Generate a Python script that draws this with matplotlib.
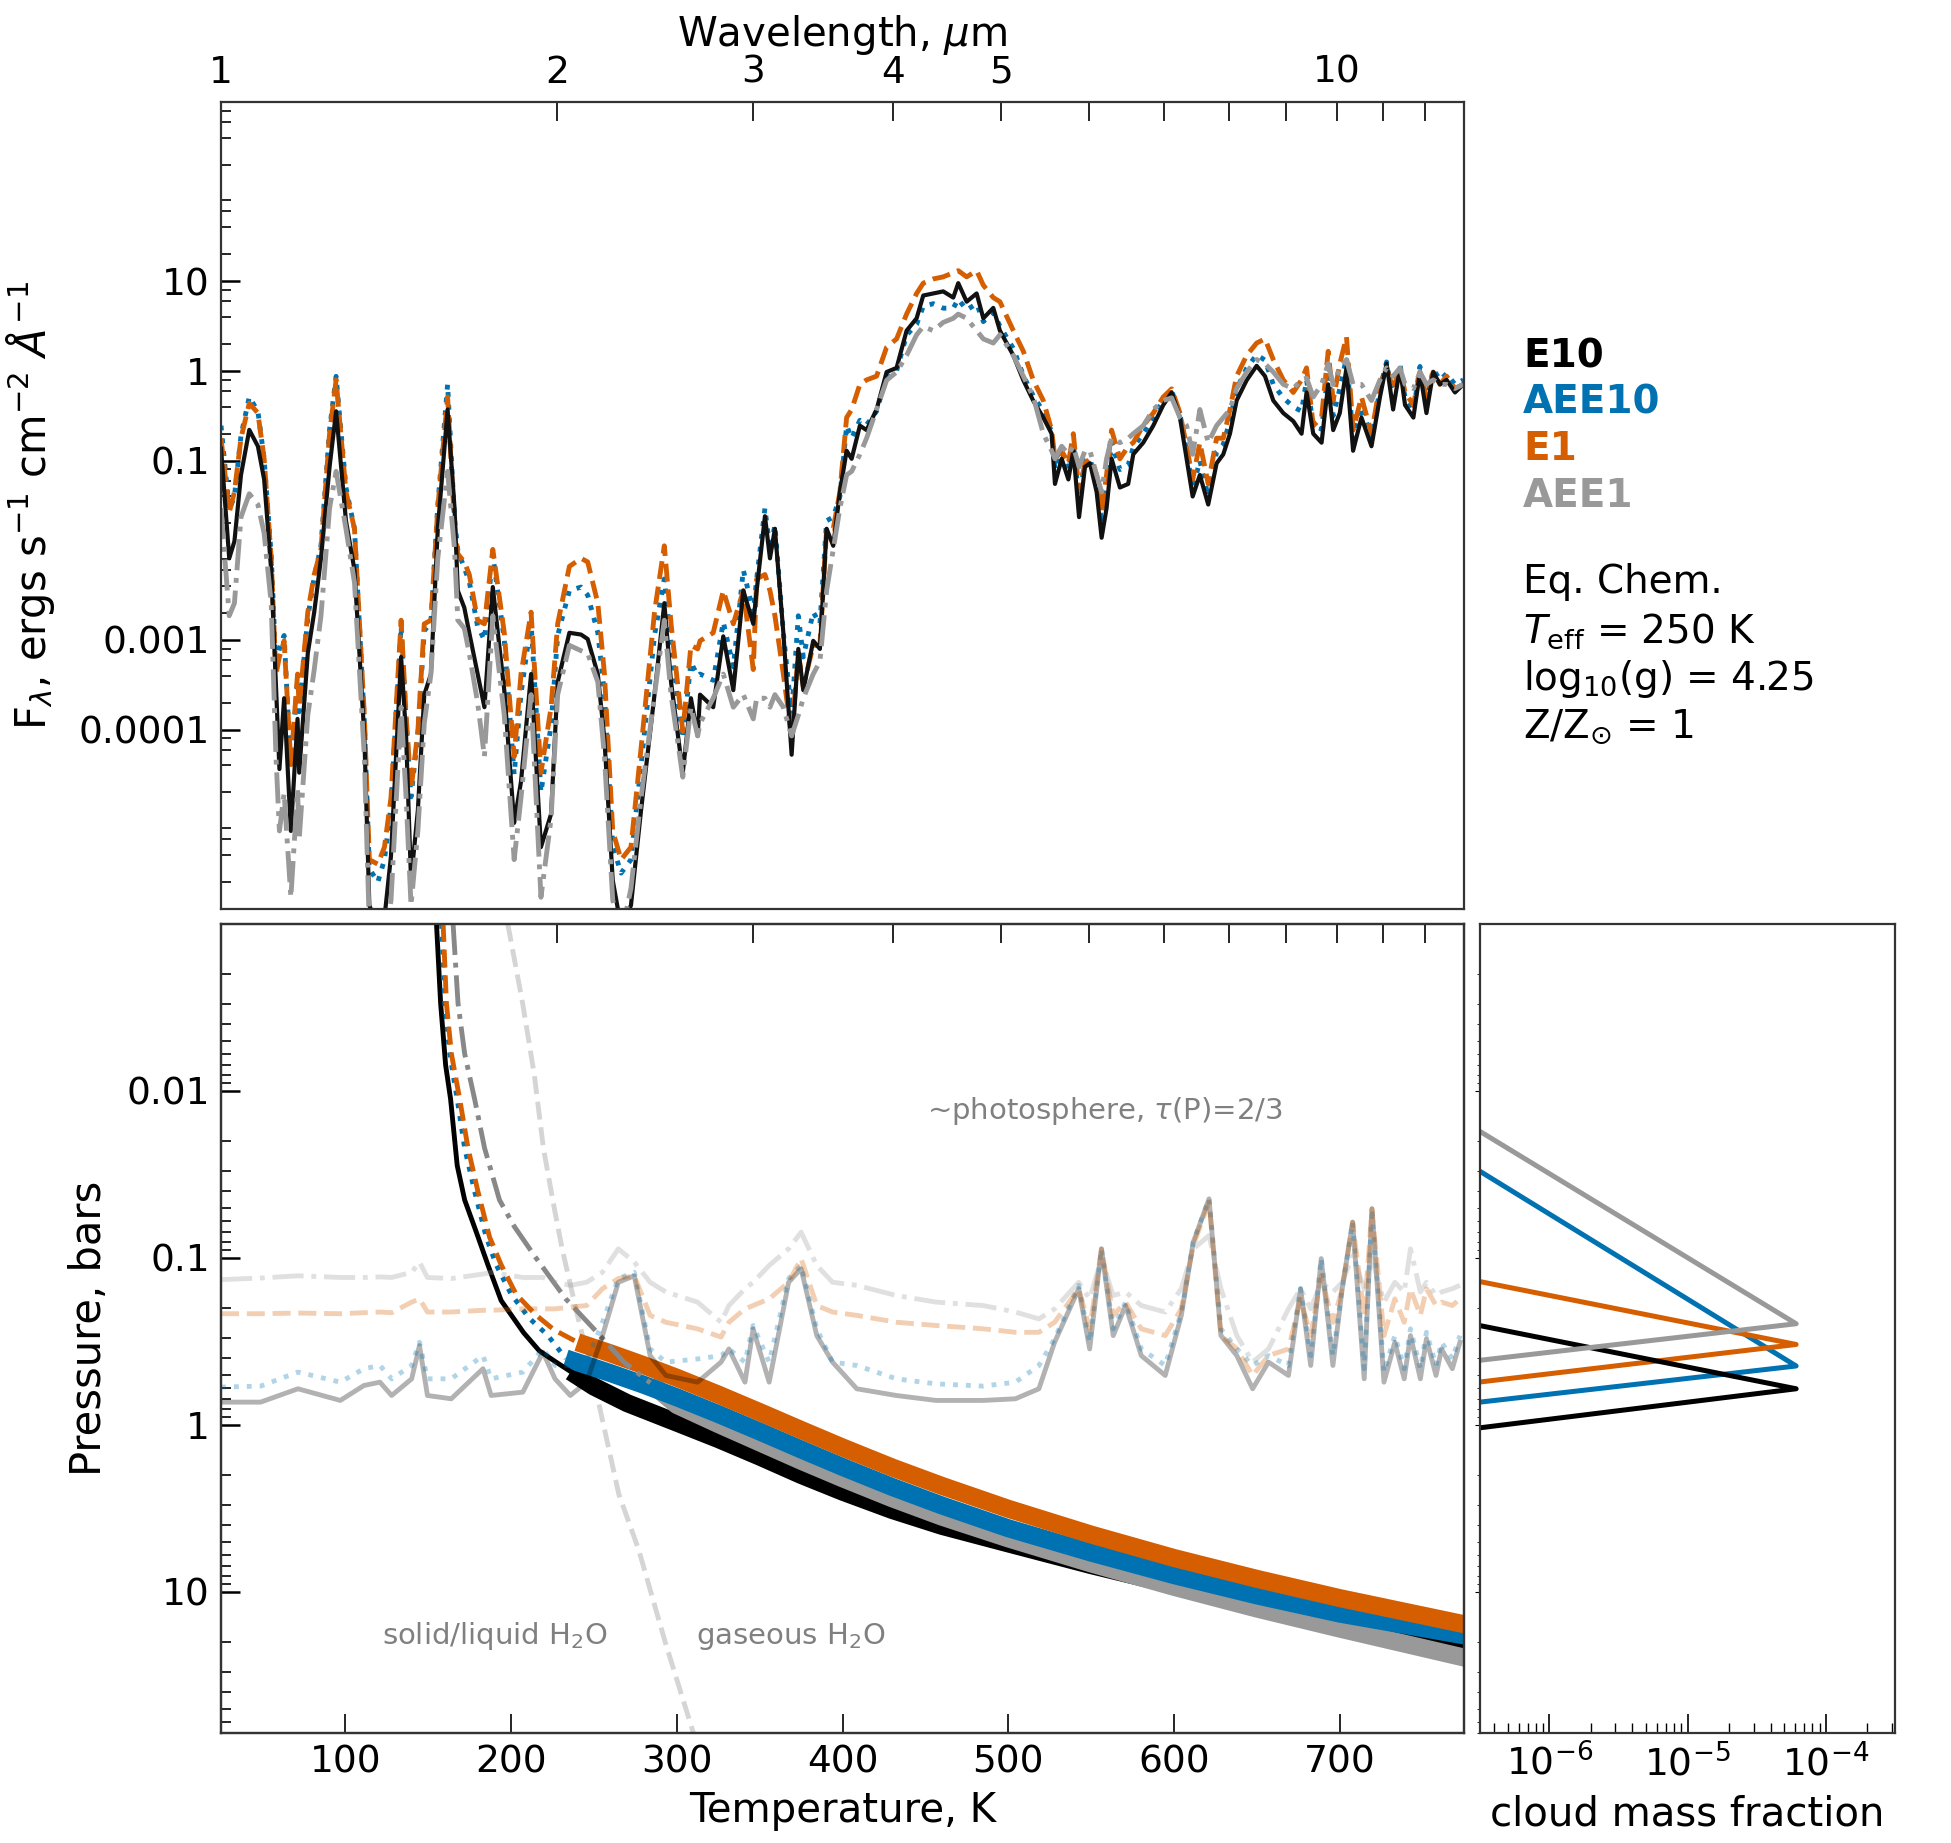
import numpy as np
import matplotlib
matplotlib.use("Agg")
import matplotlib.pyplot as plt
from matplotlib.ticker import FixedLocator, FixedFormatter, NullLocator, NullFormatter, LogLocator

c_E10 = "black"
c_AEE10 = "#0072B2"
c_E1 = "#D55E00"
c_AEE1 = "#999999"

# spectrum, wavelength in micron, log10 flux
wl = [1.000, 1.017, 1.028, 1.042, 1.060, 1.079, 1.093, 1.109, 1.120, 1.128, 1.139, 1.155, 1.171, 1.175, 1.196, 1.212,
      1.229, 1.251, 1.268, 1.294, 1.317, 1.344, 1.358, 1.382, 1.401, 1.420, 1.450, 1.465, 1.480, 1.501, 1.521, 1.542,
      1.564, 1.596, 1.619, 1.630, 1.652, 1.669, 1.698, 1.722, 1.752, 1.794, 1.831, 1.857, 1.896, 1.935, 1.976, 2.003,
      2.052, 2.102, 2.131, 2.176, 2.206, 2.244, 2.283, 2.330, 2.379, 2.446, 2.496, 2.531, 2.593, 2.637, 2.674,
      2.687, 2.761, 2.819, 2.878, 2.938, 2.999, 3.020, 3.072, 3.104, 3.136, 3.191, 3.246, 3.291, 3.325, 3.394, 3.441,
      3.489, 3.537, 3.586, 3.636, 3.674, 3.737, 3.789, 3.868, 3.949, 4.031, 4.115, 4.201, 4.259, 4.348, 4.438, 4.531,
      4.578, 4.658, 4.755, 4.821, 4.921,
      4.989, 5.129, 5.236, 5.345, 5.456, 5.551, 5.589, 5.667, 5.746, 5.805, 5.874, 5.946, 6.008, 6.091, 6.154, 6.217,
      6.282, 6.391, 6.501, 6.569, 6.706, 6.846, 6.989, 7.111, 7.234, 7.334, 7.426, 7.537, 7.668, 7.802, 7.910, 8.020,
      8.131, 8.301, 8.474, 8.621, 8.770, 8.953, 9.139, 9.297, 9.393, 9.524, 9.689, 9.822, 9.924, 10.06, 10.20, 10.34,
      10.52, 10.74, 10.93, 11.08, 11.23, 11.39, 11.51, 11.71, 11.87, 12.03, 12.20, 12.37, 12.54, 12.76, 12.98]

logF_E10 = [-0.865, -2.09, -1.90, -1.16, -0.657, -0.84, -1.21, -2.22, -3.52, -4.44, -3.65, -5.13, -3.88, -4.48, -3.15, -2.69,
            -2.09, -1.07, -0.45, -1.67, -2.22, -4.07, -5.96, -6.2, -6.1, -5.41, -3.19, -4.07, -5.68, -4.90, -3.61, -3.38,
            -1.76, -0.43, -1.53, -2.45, -2.64, -2.92, -3.38, -3.75, -2.41, -3.56, -5.04, -4.58, -3.38, -5.31, -4.94, -3.47,
            -2.92, -2.94, -2.99, -3.38, -4.11, -5.68, -6.2, -5.96, -4.90, -3.61, -2.59, -3.47, -4.48, -3.65, -4.07,
            -3.61, -3.75, -2.96, -3.56, -2.45, -2.82, -2.45, -1.62, -2.09, -1.76, -2.92, -4.28, -3.10, -3.56, -3.01, -3.10,
            -1.76, -1.95, -1.35, -0.89, -0.98, -0.61, -0.66, -0.43, -0.012, 0.034, 0.449, 0.587, 0.841, 0.864, 0.887, 0.818,
            0.979, 0.772, 0.864, 0.587, 0.703,
            0.449, 0.173, -0.104, -0.334, -0.52, -0.70, -1.26, -0.98, -1.21, -0.89, -1.63, -1.07, -1.03, -1.35, -1.86, -1.53,
            -0.98, -1.30, -1.26, -0.93, -0.80, -0.61, -0.38, -0.24, -0.52, -0.98, -1.40, -1.16, -1.49, -1.03, -0.93, -0.70,
            -0.33, -0.104, 0.057, -0.058, -0.33, -0.47, -0.56, -0.70, -0.24, -0.70, -0.80, -0.15, -0.66, -0.47, 0.034, -0.89,
            -0.52, -0.84, -0.29, 0.08, -0.43, 0.034, -0.38, -0.52, -0.012, -0.47, -0.012, -0.15, -0.10, -0.24, -0.15]

logF_AEE10 = [-0.61, -1.55, -1.40, -0.72, -0.29, -0.45, -0.98, -2.05, -3.30, -3.10, -2.95, -4.45, -3.45, -3.80, -2.75, -2.30,
              -1.95, -0.65, -0.06, -1.30, -1.76, -3.90, -5.55, -5.70, -5.45, -4.85, -2.85, -3.90, -4.75, -4.05, -2.90, -2.80,
              -1.50, -0.15, -1.65, -2.00, -2.20, -2.35, -2.85, -3.00, -2.05, -3.00, -4.50, -3.60, -2.80, -4.70, -3.95, -2.95,
              -2.45, -2.41, -2.50, -2.92, -3.60, -5.30, -5.60, -5.45, -4.40, -2.95, -2.32, -3.05, -4.10, -3.25, -3.40,
              -3.38, -3.45, -2.80, -3.30, -2.22, -2.69, -2.32, -1.53, -1.99, -1.72, -2.92, -3.84, -2.73, -3.19, -2.69, -2.82,
              -1.67, -1.63, -1.40, -0.61, -0.75, -0.55, -0.60, -0.45, -0.06, 0.0, 0.40, 0.52, 0.72, 0.75, 0.70, 0.70,
              0.80, 0.68, 0.75, 0.55, 0.65,
              0.50, 0.25, -0.05, -0.28, -0.45, -0.68, -1.10, -0.90, -1.10, -0.80, -1.45, -1.00, -0.98, -1.25, -1.70, -1.30,
              -0.80, -1.10, -1.05, -0.85, -0.70, -0.52, -0.32, -0.22, -0.48, -0.90, -1.32, -1.00, -1.40, -0.90, -0.82, -0.55,
              -0.20, 0.03, 0.18, 0.12, -0.15, -0.30, -0.40, -0.45, -0.10, -0.60, -0.65, 0.0, -0.50, -0.20, 0.15, -0.75,
              -0.40, -0.75, -0.20, 0.10, -0.30, 0.08, -0.30, -0.45, 0.05, -0.35, 0.02, -0.10, -0.03, -0.15, -0.10]

logF_E1 = [-0.75, -1.58, -1.35, -0.75, -0.36, -0.47, -0.98, -2.09, -3.38, -3.19, -3.01, -4.39, -3.38, -3.75, -2.69, -2.27,
           -1.99, -0.70, -0.10, -1.35, -1.76, -3.84, -5.45, -5.50, -5.31, -4.76, -2.78, -3.84, -4.67, -4.02, -2.82, -2.78,
           -1.53, -0.29, -1.72, -2.04, -2.13, -2.27, -2.78, -2.82, -1.99, -2.92, -4.30, -3.38, -2.69, -4.48, -3.75, -2.82,
           -2.18, -2.09, -2.13, -2.59, -3.38, -5.13, -5.45, -5.31, -4.21, -2.69, -1.95, -2.82, -4.02, -3.06, -3.10,
           -3.01, -2.92, -2.45, -2.82, -2.45, -3.33, -2.32, -2.27, -2.45, -2.73, -3.38, -4.07, -3.15, -3.52, -3.06, -3.06,
           -1.76, -1.76, -1.35, -0.52, -0.43, -0.15, -0.10, -0.058, 0.265, 0.357, 0.634, 0.864, 0.979, 1.026, 1.049, 1.095,
           1.118, 1.049, 1.118, 0.956, 0.818,
           0.772, 0.449, 0.219, -0.104, -0.33, -0.66, -0.98, -0.89, -1.03, -0.70, -1.35, -1.03, -0.98, -1.16, -1.58, -1.16,
           -0.66, -0.98, -0.84, -0.80, -0.61, -0.47, -0.29, -0.20, -0.47, -0.84, -1.21, -0.80, -1.26, -0.75, -0.75, -0.43,
           -0.058, 0.173, 0.311, 0.357, 0.127, -0.10, -0.24, -0.10, 0.034, -0.61, -0.52, 0.219, -0.33, 0.08, 0.38, -0.66,
           -0.29, -0.70, -0.15, 0.034, -0.20, 0.034, -0.24, -0.38, -0.012, -0.29, -0.012, -0.15, -0.058, -0.196, -0.15]

logF_AEE1 = [-1.53, -2.73, -2.59, -1.63, -1.37, -1.49, -1.81, -2.59, -4.30, -5.13, -4.71, -5.87, -4.67, -5.22, -3.84, -3.33,
             -2.73, -1.53, -1.12, -1.76, -2.36, -4.30, -6.2, -6.3, -6.3, -5.91, -3.75, -4.76, -5.96, -5.13, -3.93, -3.38,
             -2.09, -1.12, -1.99, -2.78, -2.87, -3.15, -3.70, -4.30, -2.73, -3.84, -5.45, -4.76, -3.61, -5.87, -4.99, -3.61,
             -3.06, -3.12, -3.15, -3.47, -4.30, -5.9, -6.3, -5.77, -4.76, -3.61, -2.78, -3.61, -4.53, -3.75, -4.07,
             -3.93, -3.65, -3.38, -3.75, -3.61, -3.88, -3.65, -3.65, -3.75, -3.61, -3.75, -4.07, -3.84, -3.65, -3.38, -3.24,
             -2.45, -1.99, -1.53, -1.16, -1.12, -0.93, -0.75, -0.43, -0.104, -0.012, 0.173, 0.403, 0.495, 0.449, 0.541, 0.587,
             0.634, 0.587, 0.449, 0.357, 0.311,
             0.403, 0.173, -0.058, -0.29, -0.70, -0.89, -0.98, -0.84, -0.93, -0.84, -1.07, -0.89, -0.89, -1.16, -1.35, -0.98,
             -0.75, -0.80, -0.75, -0.70, -0.61, -0.43, -0.33, -0.30, -0.52, -0.61, -0.93, -0.43, -0.80, -0.61, -0.52, -0.43,
             -0.196, -0.012, 0.127, 0.08, -0.012, -0.15, -0.196, -0.10, -0.08, -0.29, -0.15, 0.08, -0.15, 0.034, 0.127, -0.15,
             -0.15, -0.33, -0.10, 0.034, -0.06, 0.034, -0.15, -0.196, -0.012, -0.15, -0.10, -0.15, -0.15, -0.196, -0.15]

# photosphere pressure (bar) at tau=2/3 vs wavelength
wl_ph = [1.000, 1.085, 1.172, 1.279, 1.343, 1.388, 1.422, 1.482, 1.506, 1.531,
         1.608, 1.717, 1.746, 1.864, 1.943, 1.992, 2.056, 2.126, 2.197, 2.270,
         2.346, 2.424, 2.504, 2.673, 2.806, 2.852, 2.948, 2.998, 3.099, 3.226,
         3.310, 3.419, 3.532, 3.713, 4.029, 4.372, 4.820, 5.151, 5.407, 5.585,
         5.870, 6.004, 6.152, 6.303, 6.466, 6.679, 7.017, 7.254, 7.435, 7.681,
         7.872, 8.134, 8.404, 8.684, 9.049, 9.278, 9.474, 9.682, 9.918, 10.11,
         10.33, 10.58, 10.75, 11.02, 11.27, 11.49, 11.64, 11.88, 12.03, 12.27,
         12.41, 12.69, 12.89]
P_ph_E10 = [0.731, 0.731, 0.608, 0.714, 0.581, 0.555, 0.667, 0.530, 0.335, 0.667,
            0.698, 0.461, 0.667, 0.637, 0.367, 0.530, 0.667, 0.555, 0.292, 0.140,
            0.128, 0.385, 0.506, 0.555, 0.421, 0.351, 0.555, 0.266, 0.555, 0.140,
            0.116, 0.292, 0.421, 0.608, 0.667, 0.714, 0.714, 0.698, 0.608, 0.320,
            0.153, 0.351, 0.0883, 0.292, 0.193, 0.385, 0.506, 0.221, 0.0805, 0.0443,
            0.292, 0.385, 0.608, 0.421, 0.506, 0.153, 0.441, 0.101, 0.441, 0.153,
            0.0611, 0.530, 0.0508, 0.555, 0.320, 0.530, 0.292, 0.530, 0.305, 0.506,
            0.351, 0.461, 0.320]
P_ph_AEE10 = [0.594, 0.586, 0.483, 0.555, 0.461, 0.441, 0.530, 0.441, 0.320, 0.530,
              0.530, 0.385, 0.530, 0.483, 0.351, 0.441, 0.441, 0.421, 0.243, 0.133,
              0.122, 0.351, 0.421, 0.403, 0.385, 0.351, 0.421, 0.254, 0.421, 0.133,
              0.111, 0.266, 0.421, 0.441, 0.530, 0.568, 0.586, 0.555, 0.441, 0.305,
              0.146, 0.320, 0.0883, 0.266, 0.184, 0.351, 0.441, 0.211, 0.0805, 0.0443,
              0.266, 0.351, 0.441, 0.385, 0.441, 0.153, 0.385, 0.101, 0.385, 0.153,
              0.0611, 0.461, 0.0508, 0.483, 0.292, 0.461, 0.266, 0.461, 0.279, 0.441,
              0.320, 0.403, 0.292]
P_ph_E1 = [0.216, 0.216, 0.214, 0.216, 0.213, 0.211, 0.213, 0.184, 0.176, 0.211,
           0.211, 0.206, 0.206, 0.202, 0.202, 0.202, 0.197, 0.193, 0.153, 0.133,
           0.128, 0.221, 0.243, 0.266, 0.298, 0.243, 0.202, 0.193, 0.176, 0.140,
           0.101, 0.193, 0.211, 0.221, 0.243, 0.254, 0.266, 0.279, 0.279, 0.243,
           0.153, 0.266, 0.0883, 0.221, 0.184, 0.266, 0.292, 0.202, 0.0843, 0.0464,
           0.292, 0.351, 0.506, 0.385, 0.351, 0.176, 0.292, 0.128, 0.243, 0.153,
           0.0611, 0.221, 0.0508, 0.292, 0.176, 0.243, 0.153, 0.221, 0.153, 0.193,
           0.184, 0.193, 0.176]
P_ph_AEE1 = [0.135, 0.132, 0.128, 0.131, 0.131, 0.130, 0.131, 0.122, 0.106, 0.131,
             0.133, 0.125, 0.122, 0.131, 0.131, 0.140, 0.146, 0.140, 0.122, 0.0883,
             0.106, 0.140, 0.160, 0.184, 0.243, 0.193, 0.153, 0.140, 0.111, 0.0883,
             0.0702, 0.111, 0.140, 0.146, 0.168, 0.184, 0.193, 0.211, 0.232, 0.202,
             0.140, 0.176, 0.101, 0.168, 0.160, 0.193, 0.211, 0.153, 0.0883, 0.0735,
             0.153, 0.292, 0.421, 0.351, 0.202, 0.153, 0.202, 0.140, 0.160, 0.140,
             0.0968, 0.153, 0.101, 0.184, 0.140, 0.160, 0.0883, 0.160, 0.140, 0.168,
             0.160, 0.153, 0.146]

# P-T profiles (K, bar); convective part starts at T_conv
T_E10 = [155, 157.5, 160.5, 163.5, 167.5, 172, 179, 186, 194, 207.5, 217, 227, 236,
         250, 270, 300, 325, 350, 375, 400, 430, 460, 500, 550, 600, 650, 700, 780]
P_E10 = [0.001, 0.003, 0.007, 0.0112, 0.028, 0.045, 0.07, 0.11, 0.18, 0.28, 0.36, 0.42, 0.48,
         0.59, 0.741, 0.970, 1.216, 1.549, 1.995, 2.512, 3.236, 4.027, 5.129, 6.918, 9.120, 11.75, 15.14, 22.39]
T_AEE10 = [158, 160, 163, 167.5, 172, 178, 185, 191, 200, 211, 222, 233,
           260, 280, 300, 325, 350, 375, 400, 430, 460, 500, 550, 600, 650, 700, 780]
P_AEE10 = [0.001, 0.003, 0.006, 0.0112, 0.022, 0.04, 0.075, 0.11, 0.165, 0.23, 0.29, 0.40,
           0.49, 0.575, 0.684, 0.861, 1.096, 1.403, 1.786, 2.355, 3.04, 4.16, 5.82, 7.94, 10.5, 13.5, 18.6]
T_E1 = [159, 161, 164, 169, 174, 180, 187, 194, 203, 215, 226, 240,
        260, 280, 300, 325, 350, 375, 400, 430, 460, 500, 550, 600, 650, 700, 780]
P_E1 = [0.001, 0.003, 0.006, 0.0112, 0.022, 0.04, 0.075, 0.11, 0.165, 0.22, 0.27, 0.32,
        0.373, 0.439, 0.522, 0.658, 0.838, 1.072, 1.365, 1.80, 2.32, 3.18, 4.54, 6.27, 8.36, 10.9, 16.0]
T_AEE1 = [165, 168, 172, 178, 184, 193, 202, 215, 233, 252, 268, 284,
          300, 325, 350, 375, 400, 430, 460, 500, 550, 600, 650, 700, 780]
P_AEE1 = [0.001, 0.003, 0.006, 0.0112, 0.022, 0.045, 0.065, 0.1, 0.176, 0.28, 0.42, 0.56,
          0.76, 0.989, 1.274, 1.641, 2.089, 2.754, 3.548, 4.786, 6.761, 9.333, 12.59, 16.60, 25.41]
T_conv = {"E10": 236, "AEE10": 233, "E1": 240, "AEE1": 284}

# water condensation curve
T_cond = [198, 207, 214, 219.5, 226, 231, 240, 250, 265, 277, 293, 310]
P_cond = [0.001, 0.003, 0.008, 0.022, 0.05, 0.09, 0.22, 0.55, 2.6, 5.6, 20, 70]

# cloud mass fraction profiles
cmf = [3.2e-7, 6.1e-5, 3.2e-7]
Pc_E10 = [0.255, 0.608, 1.04]
Pc_AEE10 = [0.0305, 0.444, 0.73]
Pc_E1 = [0.139, 0.33, 0.553]
Pc_AEE1 = [0.0176, 0.248, 0.41]

plt.rcParams['font.size'] = 27
plt.rcParams['axes.linewidth'] = 1.6
plt.rcParams['axes.edgecolor'] = '#333333'

fig = plt.figure(figsize=(19.51, 18.43), dpi=100)
ax1 = fig.add_axes([0.1133, 0.5068, 0.6371, 0.4379])
ax2 = fig.add_axes([0.1133, 0.0597, 0.6371, 0.4390])
ax3 = fig.add_axes([0.7586, 0.0597, 0.2127, 0.4390], sharey=ax2)

# ---- spectrum
wl_a = np.array(wl)
ax1.plot(wl_a, 10**np.array(logF_AEE10), ':', color=c_AEE10, lw=3.5)
ax1.plot(wl_a, 10**np.array(logF_E1), '--', color=c_E1, lw=3.5)
ax1.plot(wl_a, 10**np.array(logF_E10), '-', color='#111111', lw=3)
ax1.plot(wl_a, 10**np.array(logF_AEE1), '-.', color=c_AEE1, lw=3.5)
ax1.set_xscale('log')
ax1.set_yscale('log')
ax1.set_xlim(1, 13)
ax1.set_ylim(1e-6, 1e3)
ax1.xaxis.set_major_locator(FixedLocator(list(range(1, 13))))
ax1.xaxis.set_major_formatter(FixedFormatter(['1', '2', '3', '4', '5', '', '', '', '', '10', '', '']))
ax1.xaxis.set_minor_locator(NullLocator())
ax1.yaxis.set_major_locator(FixedLocator([1e-4, 1e-3, 1e-1, 1, 10]))
ax1.yaxis.set_major_formatter(FixedFormatter(['0.0001', '0.001', '0.1', '1', '10']))
ax1.yaxis.set_minor_locator(LogLocator(base=10, subs=(2, 4, 6, 8), numticks=30))
ax1.yaxis.set_minor_formatter(NullFormatter())
ax1.tick_params(axis='x', which='major', direction='in', length=14, width=1.2, top=True, bottom=False,
                labeltop=True, labelbottom=False, pad=8)
ax1.tick_params(axis='y', which='major', direction='in', length=14, width=1.8, right=False, pad=8)
ax1.tick_params(axis='y', which='minor', direction='in', length=7, width=1.2, right=False)
ax1.xaxis.set_label_position('top')
ax1.set_xlabel(r'Wavelength, $\mu$m', fontsize=29, labelpad=6)
ax1.set_ylabel(r'F$_\lambda$, ergs s$^{-1}$ cm$^{-2}$ $\AA^{-1}$', fontsize=30)
ax1.yaxis.set_label_coords(-0.132, 0.5)

# ---- P-T profiles
profiles = [("E10", T_E10, P_E10, c_E10, '-'), ("AEE1", T_AEE1, P_AEE1, c_AEE1, '-.'),
            ("AEE10", T_AEE10, P_AEE10, c_AEE10, ':'), ("E1", T_E1, P_E1, c_E1, '--')]
ax2.plot(T_cond, P_cond, '--', color='#d5d5d5', lw=3.5, zorder=1)
for name, T, P, col, ls in profiles:
    T = np.array(T)
    P = np.array(P)
    conv = T >= T_conv[name]
    ax2.plot(T[conv], P[conv], '-', color=col, lw=13, solid_capstyle='butt', zorder=2)
for name, T, P, col, ls in profiles:
    T = np.array(T)
    P = np.array(P)
    rad = T <= T_conv[name]
    tcol = '#888888' if name == "AEE1" else col
    ax2.plot(T[rad], P[rad], ls, color=tcol, lw=3.5, zorder=3)
ax2.set_yscale('log')
ax2.set_xlim(25, 775)
ax2.set_ylim(70, 0.001)
ax2.yaxis.set_major_locator(FixedLocator([0.01, 0.1, 1, 10]))
ax2.yaxis.set_major_formatter(FixedFormatter(['0.01', '0.1', '1', '10']))
ax2.yaxis.set_minor_locator(LogLocator(base=10, subs=np.arange(2, 10), numticks=30))
ax2.yaxis.set_minor_formatter(NullFormatter())
ax2.xaxis.set_major_locator(FixedLocator([100, 200, 300, 400, 500, 600, 700]))
ax2.tick_params(axis='x', which='major', direction='in', length=14, width=1.2, top=False, pad=8)
ax2.tick_params(axis='y', which='major', direction='in', length=14, width=1.8, right=False, pad=8)
ax2.tick_params(axis='y', which='minor', direction='in', length=7, width=1.2, right=False)
ax2.set_xlabel('Temperature, K', fontsize=29, labelpad=8)
ax2.set_ylabel('Pressure, bars', fontsize=30)
ax2.yaxis.set_label_coords(-0.089, 0.5)
ax2.text(0.568, 0.769, r'~photosphere, $\tau$(P)=2/3', transform=ax2.transAxes, color='#808080',
         fontsize=21, va='center', ha='left')
ax2.text(190, 18.5, r'solid/liquid H$_2$O', color='#808080', fontsize=21, ha='center', va='center')
ax2.text(369, 18.5, r'gaseous H$_2$O', color='#808080', fontsize=21, ha='center', va='center')

# photosphere on a wavelength twin axis
axw = ax2.twiny()
axw.set_xscale('log')
axw.set_xlim(1, 13)
axw.plot(wl_ph, P_ph_E10, '-', color='black', alpha=0.3, lw=3.5)
axw.plot(wl_ph, P_ph_AEE10, ':', color=c_AEE10, alpha=0.3, lw=3.5)
axw.plot(wl_ph, P_ph_E1, '--', color=c_E1, alpha=0.3, lw=3.5)
axw.plot(wl_ph, P_ph_AEE1, '-.', color=c_AEE1, alpha=0.3, lw=3.5)
axw.xaxis.set_major_locator(FixedLocator(list(range(2, 13))))
axw.xaxis.set_major_formatter(NullFormatter())
axw.xaxis.set_minor_locator(NullLocator())
axw.tick_params(axis='x', which='major', direction='in', length=14, width=1.2)

# ---- cloud mass fraction
ax3.plot(cmf, Pc_AEE10, color=c_AEE10, lw=3.6)
ax3.plot(cmf, Pc_E1, color=c_E1, lw=3.6)
ax3.plot(cmf, Pc_E10, color=c_E10, lw=3.6)
ax3.plot(cmf, Pc_AEE1, color=c_AEE1, lw=3.6)
ax3.set_xscale('log')
ax3.set_xlim(10**-6.5, 10**-3.5)
ax3.xaxis.set_major_locator(LogLocator(base=10, numticks=10))
ax3.xaxis.set_minor_locator(LogLocator(base=10, subs=np.arange(2, 10), numticks=30))
ax3.xaxis.set_minor_formatter(NullFormatter())
ax3.tick_params(axis='x', which='major', direction='in', length=14, width=1.2, top=False, pad=8)
ax3.tick_params(axis='x', which='minor', direction='in', length=7, width=1.0, top=False)
ax3.tick_params(axis='y', which='both', labelleft=False, right=False)
ax3.set_xlabel('cloud mass fraction', fontsize=29, labelpad=8)

# ---- labels on the right
W, H = 1951.0, 1843.0
for txt, col, yb in [("E10", c_E10, 367), ("AEE10", c_AEE10, 413), ("E1", c_E1, 460), ("AEE1", c_AEE1, 507)]:
    fig.text(1523 / W, 1 - yb / H, txt, color=col, fontsize=28, fontweight='bold', va='baseline')
for txt, yb in [("Eq. Chem.", 593), (r'$T_{\rm eff}$ = 250 K', 643), (r'log$_{10}$(g) = 4.25', 690),
                (r'Z/Z$_{\odot}$ = 1', 738)]:
    fig.text(1523 / W, 1 - yb / H, txt, color='black', fontsize=28, va='baseline')

fig.savefig('out.png', dpi=100)
